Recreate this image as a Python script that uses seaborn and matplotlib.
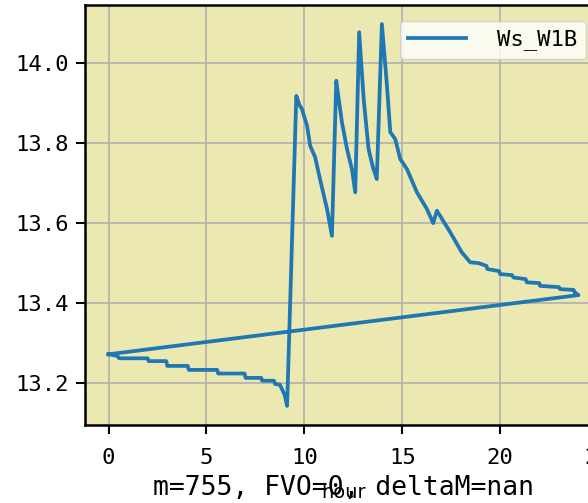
import pandas as pd
import matplotlib
matplotlib.use('Agg')
import matplotlib.pyplot as plt
import seaborn as sns

# hour of day vs Ws_W1B, in the order the points are drawn (wraps back to 0)
hours = [0.0, 0.45, 0.55, 2.0, 2.05, 2.95, 3.0, 4.05, 4.1, 5.55, 5.6, 6.95,
         7.0, 7.8, 7.85, 8.45, 8.5, 8.75, 8.85, 9.0, 9.12,
         9.59, 9.75, 9.88, 10.14, 10.3, 10.55, 10.8, 11.16, 11.41,
         11.63, 11.7, 11.92, 12.18, 12.43, 12.6,
         12.8, 13.03, 13.28, 13.5, 13.7,
         13.96, 14.22, 14.39, 14.5, 14.64, 14.9, 15.24, 15.75, 16.26, 16.58, 16.77,
         17.45, 18.04, 18.47, 18.9, 19.3, 19.35, 19.95, 20.0, 20.6, 20.68,
         21.3, 21.36, 22.0, 22.04, 23.0, 23.06, 23.75, 23.8, 24.0, 0.0]
ws_w1b = [13.272, 13.268, 13.262, 13.262, 13.255, 13.255, 13.243, 13.243, 13.233, 13.233, 13.224, 13.224,
          13.213, 13.213, 13.206, 13.206, 13.198, 13.196, 13.186, 13.17, 13.143,
          13.918, 13.895, 13.885, 13.843, 13.793, 13.765, 13.71, 13.635, 13.568,
          13.956, 13.93, 13.852, 13.785, 13.735, 13.677,
          14.077, 13.91, 13.785, 13.74, 13.71,
          14.0975, 13.943, 13.827, 13.82, 13.81, 13.76, 13.735, 13.677, 13.635, 13.6, 13.631,
          13.577, 13.527, 13.502, 13.5, 13.493, 13.485, 13.48, 13.4725, 13.47, 13.464,
          13.46, 13.452, 13.45, 13.443, 13.44, 13.435, 13.433, 13.427, 13.42, 13.272]
series_name = 'Ws_W1B'
x_label = 'hour'
bottom_title = 'm=755, FVO=0, deltaM=nan'

df = pd.DataFrame({'hour': hours, 'value': ws_w1b})

fig = plt.figure(figsize=(5.88, 5.03), dpi=100)
# the axes runs past the right edge, like the cropped original
ax = fig.add_axes([85 / 588, 78 / 503, 517 / 588, 420 / 503])
ax.set_facecolor('#ece8b2')

sns.lineplot(data=df, x='hour', y='value', sort=False, estimator=None,
             errorbar=None, color='#1f77b4', linewidth=2.7, label=series_name, ax=ax)

ax.grid(True, color='#b0b0b0', linewidth=1.2)
ax.set_axisbelow(True)
for s in ax.spines.values():
    s.set_linewidth(1.8)
    s.set_color('black')
ax.tick_params(length=6.5, width=1.5, labelsize=16)
ax.tick_params(axis='x', pad=10)
ax.tick_params(axis='y', pad=5)
for lab in ax.get_xticklabels() + ax.get_yticklabels():
    lab.set_fontfamily('DejaVu Sans Mono')
ax.set_ylabel('')
ax.set_xlabel(x_label, fontsize=14, fontfamily='DejaVu Sans', labelpad=11)

leg = ax.legend(loc='upper right', prop={'family': 'DejaVu Sans Mono', 'size': 16},
                handlelength=2.6, handletextpad=1.4, borderaxespad=0.7)
leg.get_frame().set_facecolor('white')

fig.text(343.5 / 588, 8 / 503, bottom_title, ha='center', va='baseline',
         fontsize=19, fontfamily='DejaVu Sans Mono')

fig.savefig('out.png', dpi=100)
